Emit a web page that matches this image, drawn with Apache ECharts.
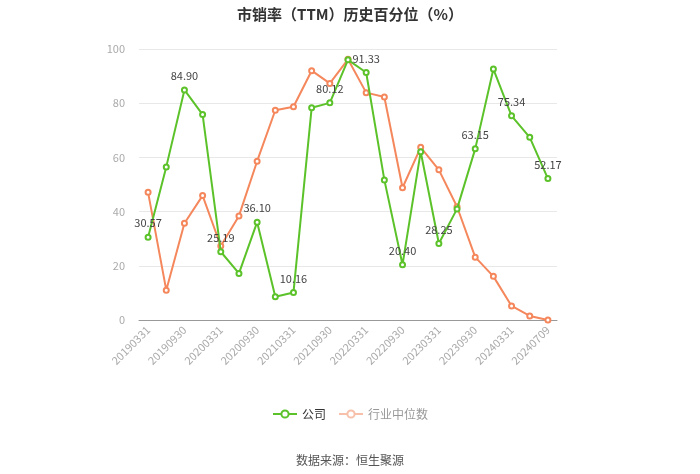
<!DOCTYPE html>
<html><head><meta charset="utf-8">
<script src="https://cdn.jsdelivr.net/npm/echarts@6/dist/echarts.min.js"></script>
<style>html,body{margin:0;padding:0;background:#fff}#c{width:700px;height:474px}</style>
</head><body><div id="c"></div>
<script>
var categories = ['20190331','20190630','20190930','20191231','20200331','20200630','20200930','20201231','20210331','20210630','20210930','20211231','20220331','20220630','20220930','20221231','20230331','20230630','20230930','20231231','20240331','20240630','20240709'];
var companyValues = [30.57,56.5,84.90,75.8,25.19,17.2,36.10,8.6,10.16,78.3,80.12,96.0,91.33,51.7,20.40,62.1,28.25,41.0,63.15,92.6,75.34,67.4,52.17];
var industryValues = [47.1,11.0,35.7,45.9,27.3,38.4,58.6,77.4,78.7,92.0,87.3,96.2,83.9,82.3,48.8,63.7,55.4,41.8,23.2,16.1,5.2,1.5,0.0];
var yTicks = [0,20,40,60,80,100];
var seriesNames = ['公司','行业中位数'];
var titleText = '市销率（TTM）历史百分位（%）';
var sourceText = '数据来源：恒生聚源';

var chart = echarts.init(document.getElementById('c'), null, {renderer:'canvas'});
var font = '"Noto Sans CJK SC", "Microsoft YaHei", sans-serif';
chart.setOption({
  animation:false,
  textStyle:{fontFamily:font},
  title:[{text:titleText,left:'center',top:2,textStyle:{fontSize:15,fontWeight:'bold',color:'#333',fontFamily:font}},
         {text:sourceText,left:'center',top:449,textStyle:{fontSize:12,fontWeight:'normal',color:'#555',fontFamily:font}}],
  legend:{bottom:49,left:'center',itemWidth:24,itemHeight:9,itemGap:12,
    data:[{name:seriesNames[0],textStyle:{color:'#333'}},
          {name:seriesNames[1],textStyle:{color:'#999'},itemStyle:{color:'#f6c0aa'},lineStyle:{color:'#f6c0aa'}}],
    textStyle:{fontSize:12,fontFamily:font}},
  grid:{left:139,right:143,top:49,bottom:154},
  xAxis:{type:'category',data:categories,boundaryGap:true,
    axisLine:{lineStyle:{color:'#999'}},
    axisTick:{alignWithLabel:true,interval:1,lineStyle:{color:'#999'}},
    axisLabel:{interval:1,rotate:45,color:'#aaa',fontSize:11,margin:8}},
  yAxis:{type:'value',min:yTicks[0],max:yTicks[yTicks.length-1],interval:20,
    axisLine:{show:false},axisTick:{show:false},
    axisLabel:{color:'#aaa',fontSize:11,margin:14},
    splitLine:{lineStyle:{color:'#e8e8e8'}}},
  series:[
    {name:seriesNames[0],type:'line',data:companyValues,symbol:'emptyCircle',symbolSize:5,
     itemStyle:{color:'#5cc22a'},lineStyle:{color:'#5cc22a',width:2},
     label:{show:true,position:'top',color:'#444',fontSize:11,
       formatter:function(p){return p.dataIndex%2===0?p.value.toFixed(2):'';}},
     z:3},
    {name:seriesNames[1],type:'line',data:industryValues,symbol:'emptyCircle',symbolSize:5,
     itemStyle:{color:'#f5875c'},lineStyle:{color:'#f5875c',width:2},z:2}
  ]
});
</script></body></html>
